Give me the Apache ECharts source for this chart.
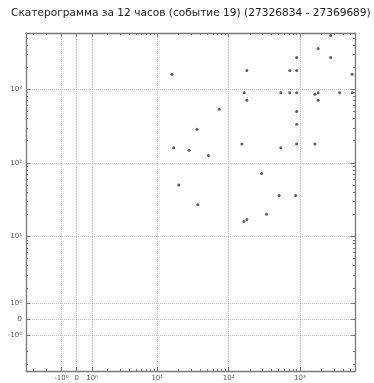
<!DOCTYPE html>
<html>
<head>
<meta charset="utf-8">
<script src="https://cdn.jsdelivr.net/npm/echarts@6/dist/echarts.min.js"></script>
<style>
html, body { margin: 0; padding: 0; background: #fff; }
#main { width: 374px; height: 383px; }
</style>
</head>
<body>
<div id="main"></div>
<script>
// точки (x, y)
var xValues = [16, 36, 17, 28, 20, 2700, 1800, 900, 2700, 180, 720, 900, 5400, 165, 540, 720, 900, 1620, 1800,
    3600, 5400, 180, 1800, 74, 900, 900, 154, 540, 900, 1620, 52, 290, 510, 870, 37, 164, 180, 340];
var yValues = [1600, 286, 160, 149, 50, 5400, 3600, 2700, 2700, 1800, 1800, 1800, 1600, 900, 900, 900, 900, 855, 900,
    900, 900, 710, 710, 535, 500, 334, 180, 160, 180, 180, 126, 72, 36, 36, 27, 16, 17, 20];

var majorTicks = [-1, 0, 1, 10, 100, 1000];
var majorLabels = ['-10⁰', '0', '10⁰', '10¹', '10²', '10³'];
var minorTicks = [-3, -2, 2, 3, 4, 5, 6, 7, 8, 9, 20, 30, 40, 50, 60, 70, 80, 90,
    200, 300, 400, 500, 600, 700, 800, 900, 2000, 3000, 4000, 5000];
var xRange = [-3.82, 5917];
var yRange = [-3.73, 5834];

// symlog как в matplotlib (linthresh = 2)
var linthresh = 2, linscale = 0.43;
function symlog(v) {
    var a = Math.abs(v), s = v < 0 ? -1 : 1;
    if (a < linthresh) return s * linscale * a / linthresh;
    return s * (linscale + Math.log10(a / linthresh));
}

var majorPos = majorTicks.map(symlog);
var minorPos = minorTicks.map(symlog);
function tickLabel(v) {
    for (var i = 0; i < majorPos.length; i++) {
        if (Math.abs(majorPos[i] - v) < 1e-6) return majorLabels[i];
    }
    return '';
}

var lineColor = '#777';
function makeAxis(pos, range, major, main) {
    return {
        type: 'value',
        position: pos,
        min: symlog(range[0]),
        max: symlog(range[1]),
        axisLine: { show: major, onZero: false, lineStyle: { color: lineColor, width: 1.3 } },
        axisTick: {
            show: true, inside: true, length: major ? 4 : 2,
            customValues: major ? majorPos : minorPos,
            lineStyle: { color: lineColor, width: 1 }
        },
        axisLabel: {
            show: main, customValues: majorPos, formatter: tickLabel,
            fontSize: 7, color: '#555', margin: 4, fontFamily: 'DejaVu Sans'
        },
        splitLine: { show: main, lineStyle: { type: 'dotted', color: '#c4c4c4', width: 1 } }
    };
}

var points = [];
for (var i = 0; i < xValues.length; i++) {
    points.push([symlog(xValues[i]), symlog(yValues[i])]);
}

var myChart = echarts.init(document.getElementById('main'));
var option = {
    animation: false,
    title: {
        text: 'Скатерограмма за 12 часов (событие 19) (27326834 - 27369689)',
        left: 6,
        top: 3,
        textStyle: { fontSize: 10.6, fontWeight: 'normal', color: '#222', fontFamily: 'DejaVu Sans' }
    },
    grid: { left: 26, top: 33, right: 19, bottom: 12, containLabel: false, outerBoundsMode: 'none' },
    xAxis: [
        makeAxis('bottom', xRange, true, true),
        makeAxis('top', xRange, true, false),
        makeAxis('bottom', xRange, false, false),
        makeAxis('top', xRange, false, false)
    ],
    yAxis: [
        makeAxis('left', yRange, true, true),
        makeAxis('right', yRange, true, false),
        makeAxis('left', yRange, false, false),
        makeAxis('right', yRange, false, false)
    ],
    series: [{
        type: 'scatter',
        xAxisIndex: 0,
        yAxisIndex: 0,
        symbolSize: 3,
        itemStyle: { color: '#333' },
        data: points
    }]
};
myChart.setOption(option);
</script>
</body>
</html>
